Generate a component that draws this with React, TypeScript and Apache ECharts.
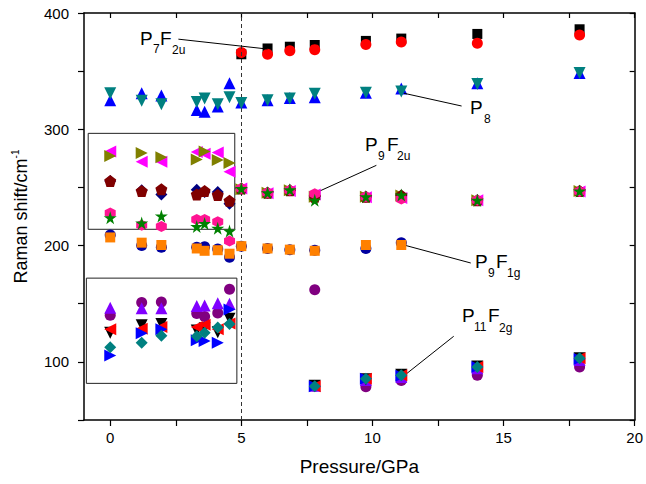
import React, { useEffect, useRef } from "react";
import * as echarts from "echarts";

// Pressures (GPa)
const lowP = [0, 1.2, 1.95, 3.3, 3.6, 4.1, 4.55];
const highP = [5.0, 6.0, 6.85, 7.8, 9.75, 11.1, 14.0, 17.9];
const midP = [5.0, 6.0, 6.85, 7.8, 9.75, 11.1];
const softP = [7.8, 9.75, 11.1, 14.0, 17.9];

// P7F2u branch
const blackSquareHigh = [364.5, 369.5, 371, 372.5, 376, 378, 382, 386];
const redCircleHigh = [366, 364.5, 367.5, 368.5, 373, 375, 374, 381];
// P8 branch
const blueUpLow = [325, 331, 329, 316.5, 315, 319.5, 339.5];
const blueUpHigh = [323, 325, 327, 327.5, 331.5, 335, 339.5, 348.5];
const tealDownLow = [331, 324.5, 321.5, 323.5, 326.5, 321.5, 327.5];
const tealDownHigh = [322.5, 325, 326.5, 330.5, 331.5, 332.5, 339, 348.5];
// P9F2u branch
const magentaLeftLow = [281, 272, 272, 280.5, 279, 280, 263.5];
const magentaLeftHigh = [249, 245, 247, 244, 241.5, 241, 239, 246.5];
const oliveRightLow = [277, 279.5, 276, 274, 281, 273.5, 271];
const oliveRightHigh = [248.5, 245.5, 247.5, 242, 242, 243, 239, 247];
const navyDiamondLow = [255.5, 247.5, 244, 248, 246, 246, 236];
const navyDiamondHigh = [249, 245.5, 247.5, 242, 242, 243, 239, 247];
const maroonPentLow = [255.5, 247, 248.5, 244, 247, 243.5, 238.5];
const maroonPentHigh = [249, 245.5, 247.5, 242, 242, 243, 239, 247];
const pinkHexLow = [228, 217.5, 216.5, 222.5, 222.5, 220.5, 204];
const pinkHexHigh = [249, 245.5, 247.5, 244.5, 242, 240, 239, 246.5];
const greenStarLow = [224, 219.5, 225.5, 216.5, 219, 215, 212.5];
const greenStarHigh = [249, 245.5, 248, 239, 242, 243.5, 239, 247];
// P9F1g branch
const navyCircleLow = [209, 200, 198.5, 198.5, 199, 197, 190];
const navyCircleMid = [199.5, 197.5, 196.5, 196, 197.5, 202.5];
const orangeSquareLow = [207, 202.5, 200.5, 197.5, 195.5, 196, 193];
const orangeSquareMid = [199.5, 197.5, 196.5, 195.5, 200.5, 200.5];
// P11F2g branch
const purpleCircleLow = [140, 151, 151.5, 141.5, 139, 142, 162.5];
const purpleCircleExtraP = [7.8];
const purpleCircleExtra = [162];
const purpleCircleSoft = [79, 78.5, 84, 88.5, 95.5];
const violetUpLow = [146.5, 146, 146, 148, 148.5, 150.5, 150];
const violetUpSoft = [79.5, 84.5, 87, 94.5, 101.5];
const blackDownLow = [125, 131.5, 132.5, 127, 129, 125.5, 137];
const blackDownSoft = [79.5, 85, 89, 96, 103];
const redLeftLow = [128, 128.5, 130, 130, 132, 128, 133];
const redLeftSoft = [79, 85.5, 88.5, 95.5, 103];
const blueRightLow = [105.5, 124.5, 128, 118.5, 118, 116.5, 145];
const blueRightSoft = [79, 85.5, 88, 95.5, 102.5];
const tealDiamondLow = [112.5, 116.5, 122.5, 122, 125, 129.5, 132.5];
const tealDiamondSoft = [79, 85.5, 88.5, 95.5, 103];

const xLabels = [0, 5, 10, 15, 20];
const xTicks = [0, 2.5, 5, 7.5, 10, 12.5, 15, 17.5, 20];

const STAR = "path://M50,0 L61,35 L98,35 L68,57 L79,91 L50,70 L21,91 L32,57 L2,35 L39,35 Z";
const PENT = "path://M50,0 L98,36 L80,95 L20,95 L2,36 Z";
const HEX = "path://M50,0 L93,25 L93,75 L50,100 L7,75 L7,25 Z";

const FONT = "Liberation Sans, Arial, sans-serif";

function pts(xs: number[], ys: number[]) {
  return xs.map((x, i) => [x, ys[i]]);
}

type Spec = { symbol: string; rotate?: number; size: number; color: string; data: number[][] };

const specs: Spec[] = [
  { symbol: "rect", size: 10, color: "#000000", data: pts(highP, blackSquareHigh) },
  { symbol: "circle", size: 11, color: "#FF0000", data: pts(highP, redCircleHigh) },
  { symbol: "triangle", size: 12, color: "#0000FF", data: [...pts(lowP, blueUpLow), ...pts(highP, blueUpHigh)] },
  { symbol: "triangle", rotate: 180, size: 12, color: "#008080", data: [...pts(lowP, tealDownLow), ...pts(highP, tealDownHigh)] },
  { symbol: "triangle", rotate: 90, size: 12, color: "#FF00FF", data: [...pts(lowP, magentaLeftLow), ...pts(highP, magentaLeftHigh)] },
  { symbol: "triangle", rotate: -90, size: 12, color: "#808000", data: [...pts(lowP, oliveRightLow), ...pts(highP, oliveRightHigh)] },
  { symbol: "diamond", size: 12, color: "#000080", data: [...pts(lowP, navyDiamondLow), ...pts(highP, navyDiamondHigh)] },
  { symbol: PENT, size: 12, color: "#800000", data: [...pts(lowP, maroonPentLow), ...pts(highP, maroonPentHigh)] },
  { symbol: HEX, size: 11, color: "#FF1493", data: [...pts(lowP, pinkHexLow), ...pts(highP, pinkHexHigh)] },
  { symbol: STAR, size: 13, color: "#008000", data: [...pts(lowP, greenStarLow), ...pts(highP, greenStarHigh)] },
  { symbol: "circle", size: 11, color: "#0000A0", data: [...pts(lowP, navyCircleLow), ...pts(midP, navyCircleMid)] },
  { symbol: "rect", size: 10, color: "#FF8000", data: [...pts(lowP, orangeSquareLow), ...pts(midP, orangeSquareMid)] },
  { symbol: "circle", size: 11, color: "#800080", data: [...pts(lowP, purpleCircleLow), ...pts(purpleCircleExtraP, purpleCircleExtra), ...pts(softP, purpleCircleSoft)] },
  { symbol: "triangle", size: 12, color: "#8000FF", data: [...pts(lowP, violetUpLow), ...pts(softP, violetUpSoft)] },
  { symbol: "triangle", rotate: 180, size: 12, color: "#000000", data: [...pts(lowP, blackDownLow), ...pts(softP, blackDownSoft)] },
  { symbol: "triangle", rotate: 90, size: 12, color: "#FF0000", data: [...pts(lowP, redLeftLow), ...pts(softP, redLeftSoft)] },
  { symbol: "triangle", rotate: -90, size: 12, color: "#0000FF", data: [...pts(lowP, blueRightLow), ...pts(softP, blueRightSoft)] },
  { symbol: "diamond", size: 12, color: "#008080", data: [...pts(lowP, tealDiamondLow), ...pts(softP, tealDiamondSoft)] },
];

// annotation arrows [fromX, fromY, toX, toY] in data units
const arrows = [
  [6.0, 369, 2.6, 377.5],
  [11.2, 331, 13.4, 320],
  [7.9, 246, 10.15, 269],
  [11.2, 200.5, 13.75, 185],
  [11.2, 88, 13.1, 122],
];
const boxes = [
  [-0.84, 296.5, 4.75, 214],
  [-0.91, 172, 4.83, 81.5],
];

function label(parts: [string, number, number][], y: number) {
  // parts: [text, x, dy]
  return parts.map(([t, x, dy]) => ({
    type: "text",
    x,
    y: y + dy,
    silent: true,
    style: {
      text: t,
      fill: "#000",
      font: `${dy ? 12 : 19}px ${FONT}`,
      textAlign: "left",
      textVerticalAlign: "middle",
      align: "left",
      verticalAlign: "middle",
    },
  }));
}

export default function App() {
  const ref = useRef<HTMLDivElement>(null);
  useEffect(() => {
    document.body.style.margin = "0";
    const chart = echarts.init(ref.current!, null, { renderer: "svg" });
    const axisLine = { show: true, onZero: false, lineStyle: { color: "#000", width: 1.5 } };
    const option: any = {
      animation: false,
      backgroundColor: "#fff",
      grid: { left: 84, right: 10, top: 13, bottom: 64, containLabel: false },
      xAxis: [
        {
          type: "value",
          min: -1,
          max: 20,
          position: "bottom",
          axisLine,
          splitLine: { show: false },
          axisTick: { show: true, inside: false, length: 6, customValues: xTicks, lineStyle: { color: "#000", width: 1.2 } },
          axisLabel: { customValues: xLabels, color: "#000", fontSize: 15, fontFamily: FONT, margin: 10 },
          name: "Pressure/GPa",
          nameLocation: "middle",
          nameGap: 37,
          nameTextStyle: { fontSize: 19, fontFamily: FONT, color: "#000" },
        },
        {
          type: "value",
          min: -1,
          max: 20,
          position: "top",
          axisLine,
          splitLine: { show: false },
          axisTick: { show: true, inside: true, length: 5, customValues: xTicks, lineStyle: { color: "#000", width: 1.2 } },
          axisLabel: { show: false },
        },
      ],
      yAxis: [
        {
          type: "value",
          min: 50,
          max: 400,
          interval: 50,
          position: "left",
          axisLine,
          splitLine: { show: false },
          axisTick: { show: true, inside: false, length: 6, lineStyle: { color: "#000", width: 1.2 } },
          axisLabel: {
            color: "#000",
            fontSize: 15,
            fontFamily: FONT,
            margin: 15,
            formatter: (v: number) => (v % 100 === 0 ? String(v) : ""),
          },
          name: "{a|Raman shift/cm}{b|-1}",
          nameLocation: "middle",
          nameRotate: 90,
          nameGap: 52,
          nameTextStyle: {
            rich: {
              a: { fontSize: 18, fontFamily: FONT, color: "#000", lineHeight: 22 },
              b: { fontSize: 10, fontFamily: FONT, color: "#000", verticalAlign: "top", lineHeight: 10 },
            },
          },
        },
        {
          type: "value",
          min: 50,
          max: 400,
          interval: 50,
          position: "right",
          axisLine,
          splitLine: { show: false },
          axisTick: { show: true, inside: true, length: 5, lineStyle: { color: "#000", width: 1.2 } },
          axisLabel: { show: false },
        },
      ],
      series: [
        {
          type: "scatter",
          data: [],
          silent: true,
          z: 1,
          markArea: {
            silent: true,
            itemStyle: { color: "rgba(0,0,0,0)", borderColor: "#222", borderWidth: 1 },
            data: boxes.map((b) => [{ coord: [b[0], b[1]] }, { coord: [b[2], b[3]] }]),
          },
          markLine: {
            silent: true,
            symbol: ["none", "none"],
            label: { show: false },
            lineStyle: { color: "#333", width: 1, type: [4, 3] },
            data: [{ xAxis: 5 }],
          },
        },
        ...specs.map((s, i) => ({
          type: "scatter",
          name: "s" + i,
          data: s.data,
          symbol: s.symbol,
          symbolSize: s.size,
          symbolRotate: s.rotate || 0,
          itemStyle: { color: s.color, opacity: 1 },
          z: 2 + i,
        })),
        {
          type: "scatter",
          data: [],
          silent: true,
          z: 30,
          markLine: {
            silent: true,
            symbol: ["none", "arrow"],
            symbolSize: [0, 10],
            label: { show: false },
            lineStyle: { color: "#000", width: 1, type: "solid" },
            data: arrows.map((a) => [{ coord: [a[0], a[1]] }, { coord: [a[2], a[3]] }]),
          },
        },
      ],
      graphic: [
        ...label([["P", 140, 0], ["7", 153, 10.5], ["F", 160, 0], ["2u", 172, 11.5]], 38.5),
        ...label([["P", 470, 0], ["8", 484, 11.5]], 107.5),
        ...label([["P", 365, 0], ["9", 378, 11.5], ["F", 387, 0], ["2u", 397, 11.5]], 144.5),
        ...label([["P", 475, 0], ["9", 488, 11], ["F", 496, 0], ["1g", 507, 11.5]], 261.5),
        ...label([["P", 462, 0], ["11", 474, 12], ["F", 488, 0], ["2g", 499, 13]], 315),
      ],
    };
    chart.setOption(option);
    return () => chart.dispose();
  }, []);
  return <div ref={ref} style={{ width: 646, height: 484 }} />;
}
